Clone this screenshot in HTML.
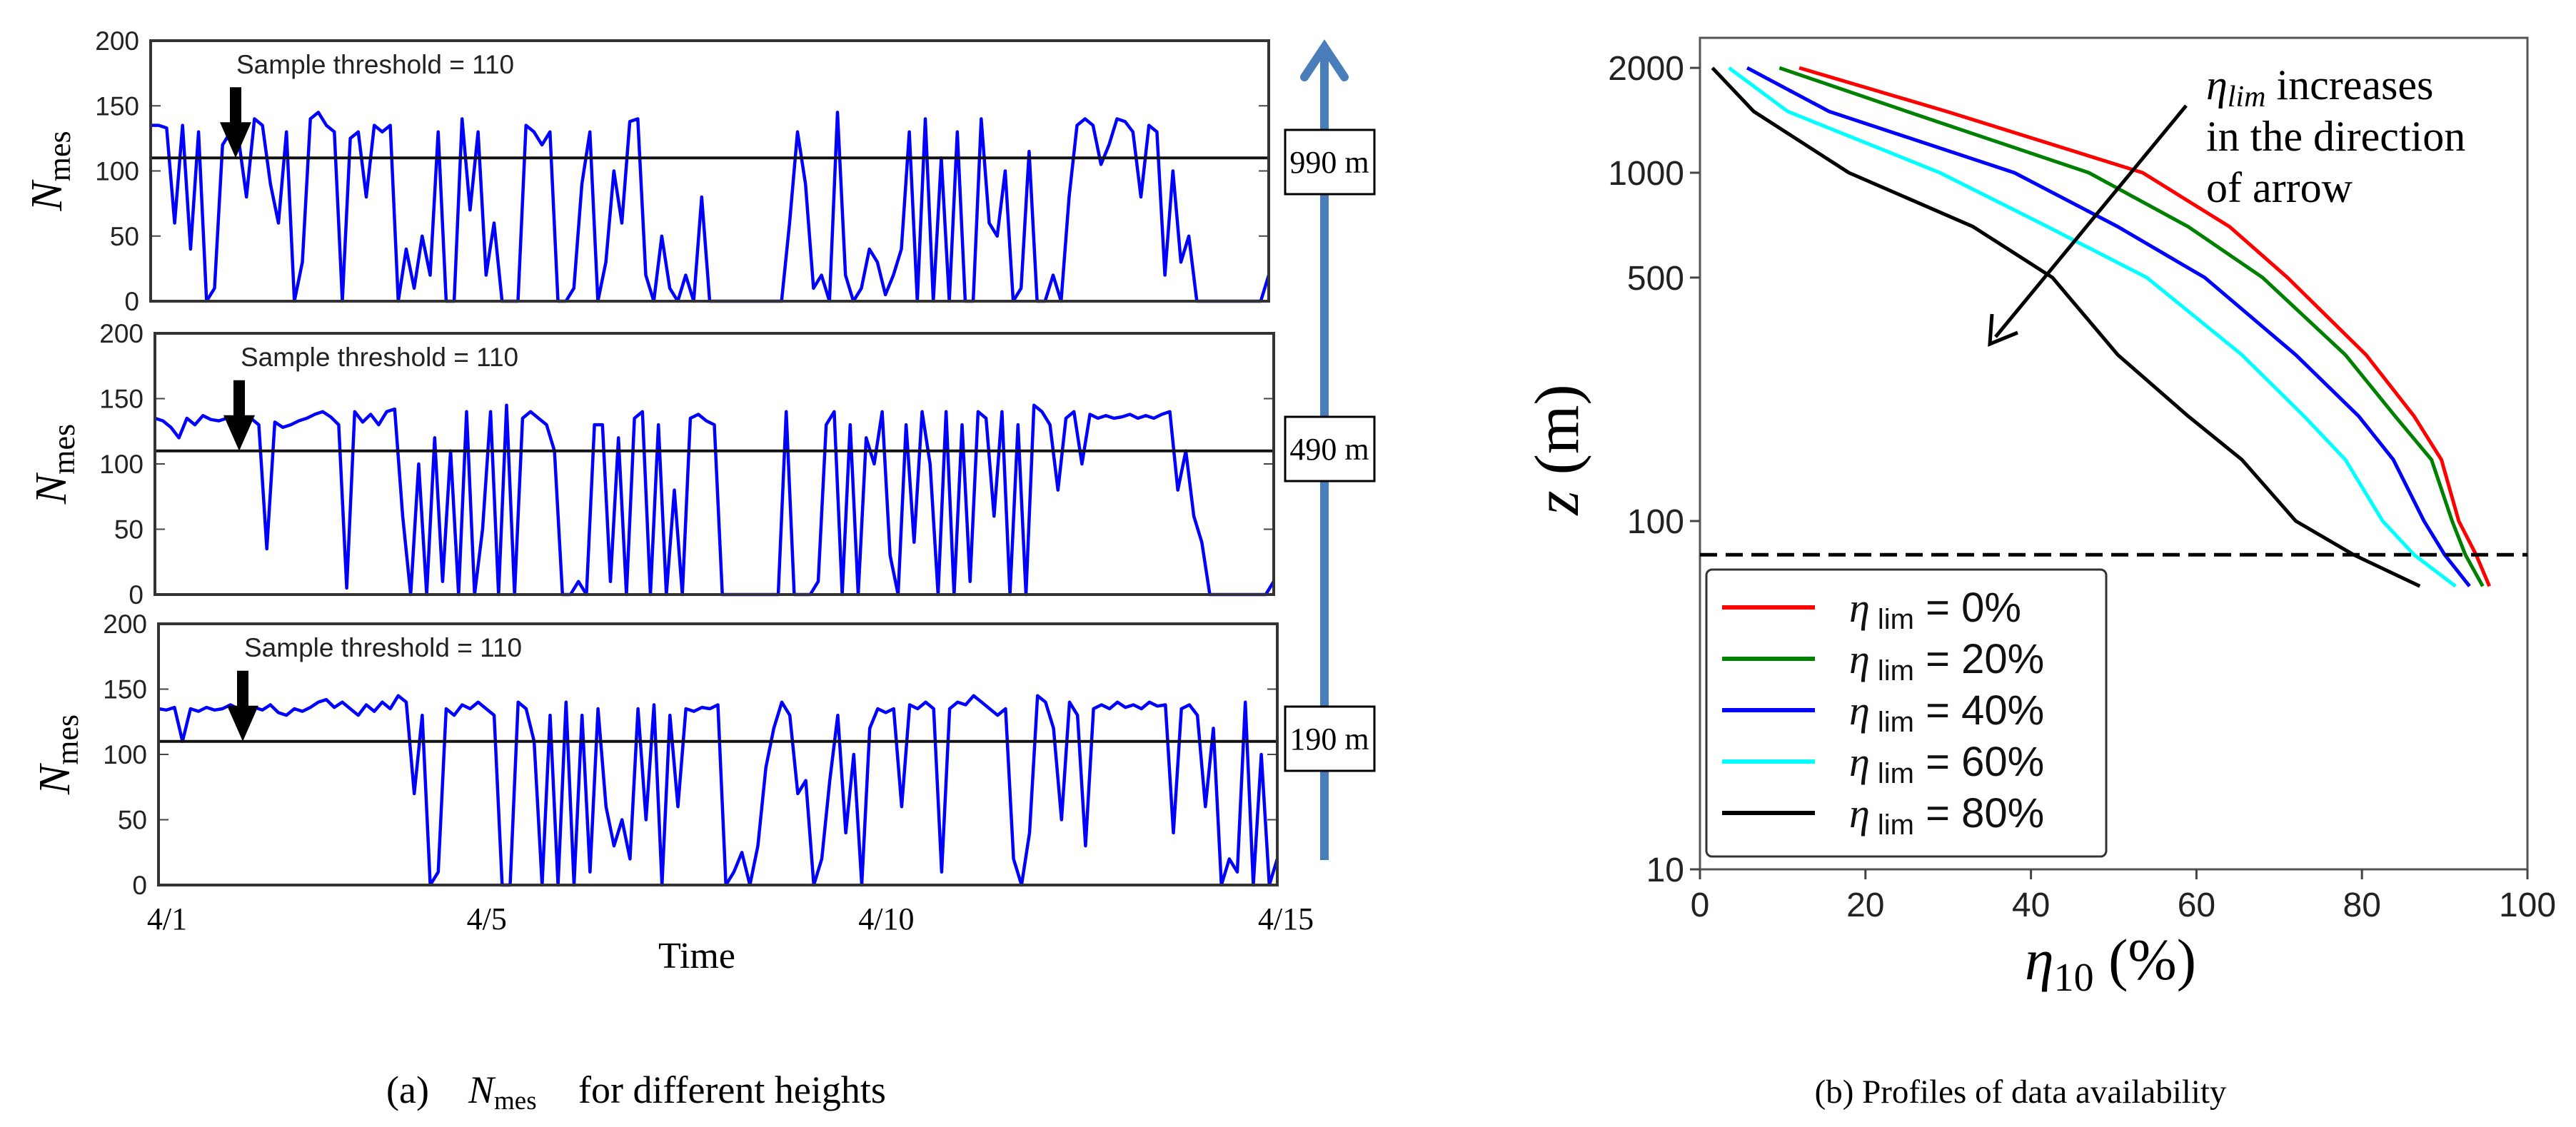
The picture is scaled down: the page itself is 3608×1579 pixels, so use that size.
<!DOCTYPE html>
<html><head><meta charset="utf-8"><style>
html,body{margin:0;padding:0;background:#fff;}
svg{display:block;}
</style></head><body>
<svg id="fig" width="3608" height="1579" viewBox="0 0 3608 1579" xmlns="http://www.w3.org/2000/svg">
<g id="left"></g>
<g id="right"></g>
<g font-family="Liberation Serif, serif" font-size="54">
<text x="541" y="1545">(a)</text>
<text x="656" y="1545"><tspan font-style="italic">N</tspan><tspan font-size="37" dy="9">mes</tspan></text>
<text x="810" y="1545">for different heights</text>
</g>
<text x="2830" y="1545" text-anchor="middle" font-family="Liberation Serif, serif" font-size="47">(b) Profiles of data availability</text>
</svg>
<script>
// ---------- Left panel data (N_mes sampled every 0.1 day from 4/1 to 4/15) ----------
const timeStepDays = 0.1;
const valsTop990 = [135,135,133,60,135,40,130,0,10,120,
130,125,80,140,135,90,60,130,0,30,
140,145,135,130,0,125,130,80,135,130,
135,0,40,10,50,20,130,0,0,140,
70,130,20,60,0,0,0,135,130,120,
130,0,0,10,90,130,0,30,100,60,
138,140,20,0,50,10,0,20,0,80,
0,
0,0,0,0,0,0,0,0,0,
60,130,90,10,20,0,145,20,0,10,
40,30,5,20,40,130,0,140,0,110,
0,130,0,0,140,60,50,100,0,10,
115,0,0,20,0,80,135,140,135,105,
120,140,138,130,80,135,130,20,100,30,
50,0,0,0,0,0,0,0,0,0,20];
const valsMid490 = [135,133,128,120,135,130,137,134,133,135,
136,133,135,130,35,132,128,130,133,135,
138,140,136,130,5,140,132,138,130,140,
142,60,0,100,0,120,10,110,0,140,
0,50,140,0,145,0,135,140,135,130,
110,0,0,10,0,130,130,10,120,0,
135,140,0,130,0,80,0,135,138,133,
130,0,
0,0,0,0,0,0,0,
140,0,0,0,10,130,140,0,130,0,
120,100,140,30,0,130,40,140,100,0,
140,0,130,10,140,135,60,140,0,130,
0,145,140,130,80,135,140,100,138,135,
137,135,136,138,135,137,135,138,140,80,
110,60,40,0,
0,0,0,0,0,0,0,10];
const valsLow190 = [135,134,136,110,135,133,136,134,135,138,
135,132,136,134,138,132,130,135,133,136,
140,142,136,140,135,130,138,133,140,135,
145,140,
70,130,0,10,135,130,138,135,140,135,
130,0,0,140,135,110,0,130,0,140,
0,130,10,135,60,30,50,20,135,50,
138,0,130,60,135,133,136,135,138,0,
10,25,0,30,90,120,140,130,
70,80,0,20,80,130,40,100,0,120,
135,132,135,60,138,135,140,135,10,135,
140,138,145,140,135,130,135,20,0,40,
145,140,120,50,140,130,30,135,138,135,
140,136,138,135,140,137,138,40,135,138,
130,60,120,0,20,10,140,0,100,0,20];
const panelHeights = ["990 m","490 m","190 m"];
const yTicksLeft = [0,50,100,150,200];
const dateLabels = ["4/1","4/5","4/10","4/15"];
const dateDays = [0,4,9,14];
const thresholdValue = 110;

// ---------- Right panel data ----------
const zLevels = [2000,1500,1000,700,500,300,200,150,100,80,65];
const etaLim0  = [12,29.8,53.5,64,71,80.5,86.3,89.6,91.7,93.8,95.4];
const etaLim20 = [9.6,25,47,59,68,78,84,88.4,90.9,92.5,94.6];
const etaLim40 = [5.7,15.6,38,50.5,61,72,79.6,83.8,87.5,90,93];
const etaLim60 = [3.5,10.6,29,42,54,65.5,73,78,82.5,86.3,91.3];
const etaLim80 = [1.5,6.5,18,33,42.6,50.5,59,65.5,72,79,87];
const legendLabels = ["0%","20%","40%","60%","80%"];
const xTicksRight = [0,20,40,60,80,100];
const yTicksRight = [10,100,500,1000,2000];
const hubHeight = 80;

const NS = "http://www.w3.org/2000/svg";
function mk(tag, attrs, parent){
  const e = document.createElementNS(NS, tag);
  for (const k in attrs) e.setAttribute(k, attrs[k]);
  parent.appendChild(e);
  return e;
}
const L = document.getElementById('left');
const R = document.getElementById('right');

const ba = mk('line', {x1:1855, x2:1855, y1:1205, y2:70, stroke:'#4a7ebb', 'stroke-width':12}, L);


const bh = mk('path', {d:'M1827 108L1855 66L1883 108', fill:'none', stroke:'#4a7ebb', 'stroke-width':12, 'stroke-linecap':'round'}, L);



const panels = [
  {x0:211, x1:1777, y0:57, y1:422, vals:valsTop990, arrowX:330, box:{y:182}},
  {x0:217, x1:1784, y0:467, y1:833, vals:valsMid490, arrowX:335, box:{y:584}},
  {x0:222, x1:1789, y0:874, y1:1240, vals:valsLow190, arrowX:340, box:{y:990}}
];
panels.forEach((p, i) => {
  const g = mk('g', {}, L);
  
  
  const xs = d => p.x0 + d / 14 * (p.x1 - p.x0);
  const ys = v => p.y1 - v / 200 * (p.y1 - p.y0);
  yTicksLeft.forEach(v => {
    const t = mk('line', {x1:p.x0, x2:p.x0+14, y1:ys(v), y2:ys(v), stroke:'#444', 'stroke-width':2}, g);
    
    
    const t2 = mk('line', {x1:p.x1-14, x2:p.x1, y1:ys(v), y2:ys(v), stroke:'#444', 'stroke-width':2}, g);
    
    
    const lb = mk('text', {x:p.x0-16, y:ys(v)+13, 'text-anchor':'end', 'font-family':'Liberation Sans, sans-serif', 'font-size':37, fill:'#222'}, g);
    lb.textContent = v;
    
    
  });
  let d = '';
  p.vals.forEach((v, k) => { d += (k ? 'L' : 'M') + xs(k * timeStepDays).toFixed(1) + ' ' + ys(v).toFixed(1); });
  const path = mk('path', {d:d, fill:'none', stroke:'#0000ff', 'stroke-width':4.5, 'stroke-linejoin':'round'}, g);
  
  
  const th = mk('line', {x1:p.x0, x2:p.x1, y1:ys(thresholdValue), y2:ys(thresholdValue), stroke:'#111', 'stroke-width':4}, g);
  
  
  const fr = mk('rect', {x:p.x0, y:p.y0, width:p.x1-p.x0, height:p.y1-p.y0, fill:'none', stroke:'#333', 'stroke-width':4}, g);
  
  
  const tt = mk('text', {x:p.x0+120, y:p.y0+46, 'font-family':'Liberation Sans, sans-serif', 'font-size':37, fill:'#222'}, g);
  tt.textContent = 'Sample threshold = 110';
  
  
  const ax = p.arrowX, ty = ys(thresholdValue);
  const ar = mk('path', {d:`M${ax-8} ${ty-99}L${ax+8} ${ty-99}L${ax+8} ${ty-50}L${ax+22} ${ty-50}L${ax} ${ty}L${ax-22} ${ty-50}L${ax-8} ${ty-50}Z`, fill:'#000'}, g);
  
  
  const cy = (p.y0 + p.y1) / 2;
  const yl = mk('text', {x:0, y:0, transform:`translate(${p.x0-125},${cy}) rotate(-90)`, 'text-anchor':'middle', 'font-family':'Liberation Serif, serif', 'font-size':62}, g);
  yl.innerHTML = '<tspan font-style="italic">N</tspan><tspan font-size="44" dy="12">mes</tspan>';
  
  
  const bx = mk('rect', {x:1800, y:p.box.y, width:125, height:90, fill:'#fff', stroke:'#000', 'stroke-width':3}, L);
  
  
  const bt = mk('text', {x:1862, y:p.box.y+60, 'text-anchor':'middle', 'font-family':'Liberation Serif, serif', 'font-size':44}, L);
  bt.textContent = panelHeights[i];
  
  
});
dateLabels.forEach((s, k) => {
  const p = panels[2];
  const t = mk('text', {x:p.x0 + dateDays[k]/14*(p.x1-p.x0) + 12, y:1302, 'text-anchor':'middle', 'font-family':'Liberation Serif, serif', 'font-size':44}, L);
  t.textContent = s;
  
  
});
const tl = mk('text', {x:976, y:1356, 'text-anchor':'middle', 'font-family':'Liberation Serif, serif', 'font-size':52}, L);
tl.textContent = 'Time';



const RX0 = 2381, RX1 = 3540, RY0 = 53, RY1 = 1218, DEC = 488;
const xR = v => RX0 + v / 100 * (RX1 - RX0);
const yR = z => RY1 - (Math.log10(z) - 1) * DEC;
const fr2 = mk('rect', {x:RX0, y:RY0, width:RX1-RX0, height:RY1-RY0, fill:'none', stroke:'#555', 'stroke-width':3}, R);


yTicksRight.forEach(z => {
  const t = mk('line', {x1:RX0-14, x2:RX0, y1:yR(z), y2:yR(z), stroke:'#444', 'stroke-width':3}, R);
  
  
  const lb = mk('text', {x:RX0-22, y:yR(z)+17, 'text-anchor':'end', 'font-family':'Liberation Sans, sans-serif', 'font-size':48, fill:'#222'}, R);
  lb.textContent = z;
  
  
});
xTicksRight.forEach(v => {
  const t = mk('line', {x1:xR(v), x2:xR(v), y1:RY1, y2:RY1+14, stroke:'#444', 'stroke-width':3}, R);
  
  
  const lb = mk('text', {x:xR(v), y:RY1+66, 'text-anchor':'middle', 'font-family':'Liberation Sans, sans-serif', 'font-size':48, fill:'#222'}, R);
  lb.textContent = v;
  
  
});
const seriesSet = [etaLim0, etaLim20, etaLim40, etaLim60, etaLim80];
const colors = ['#ff0000', '#008000', '#0000ff', '#00ffff', '#000000'];
seriesSet.forEach((s, i) => {
  let d = '';
  s.forEach((v, k) => { d += (k ? 'L' : 'M') + xR(v).toFixed(1) + ' ' + yR(zLevels[k]).toFixed(1); });
  const p = mk('path', {d:d, fill:'none', stroke:colors[i], 'stroke-width':5, 'stroke-linejoin':'round'}, R);
  
  
});
const hl = mk('line', {x1:RX0, x2:RX1, y1:yR(hubHeight), y2:yR(hubHeight), stroke:'#000', 'stroke-width':5, 'stroke-dasharray':'24 12'}, R);


const lg = mk('g', {}, R);


const lb = mk('rect', {x:2390, y:798, width:560, height:402, rx:8, fill:'#fff', stroke:'#333', 'stroke-width':3}, lg);


legendLabels.forEach((s, i) => {
  const cy = 851 + i * 72;
  const l = mk('line', {x1:2412, x2:2542, y1:cy, y2:cy, stroke:colors[i], 'stroke-width':6}, lg);
  
  
  const t = mk('text', {x:2590, y:cy+20, 'font-family':'Liberation Sans, sans-serif', 'font-size':58, fill:'#111'}, lg);
  t.innerHTML = '<tspan font-family="Liberation Serif, serif" font-style="italic">η</tspan><tspan font-size="40" dy="10"> lim</tspan><tspan dy="-10"> = ' + s + '</tspan>';
  
  
});
const zt = mk('text', {x:0, y:0, transform:'translate(2210,630) rotate(-90)', 'text-anchor':'middle', 'font-family':'Liberation Serif, serif', 'font-size':88}, R);
zt.innerHTML = '<tspan font-style="italic">z</tspan> (m)';


const xt = mk('text', {x:2956, y:1372, 'text-anchor':'middle', 'font-family':'Liberation Serif, serif', 'font-size':82}, R);
xt.innerHTML = '<tspan font-style="italic">η</tspan><tspan font-size="56" dy="16">10</tspan><tspan dy="-16"> (%)</tspan>';


const an = mk('text', {x:3090, y:139, 'font-family':'Liberation Serif, serif', 'font-size':60}, R);
an.innerHTML = '<tspan font-style="italic">η</tspan><tspan font-style="italic" font-size="42" dy="10">lim</tspan><tspan dy="-10"> increases</tspan><tspan x="3090" dy="72">in the direction</tspan><tspan x="3090" dy="72">of arrow</tspan>';


const aa = mk('line', {x1:3062, y1:148, x2:2795, y2:472, stroke:'#000', 'stroke-width':5}, R);


const ah = mk('path', {d:'M2790 440L2787 482L2826 466', fill:'none', stroke:'#000', 'stroke-width':5}, R);


</script>
</body></html>
